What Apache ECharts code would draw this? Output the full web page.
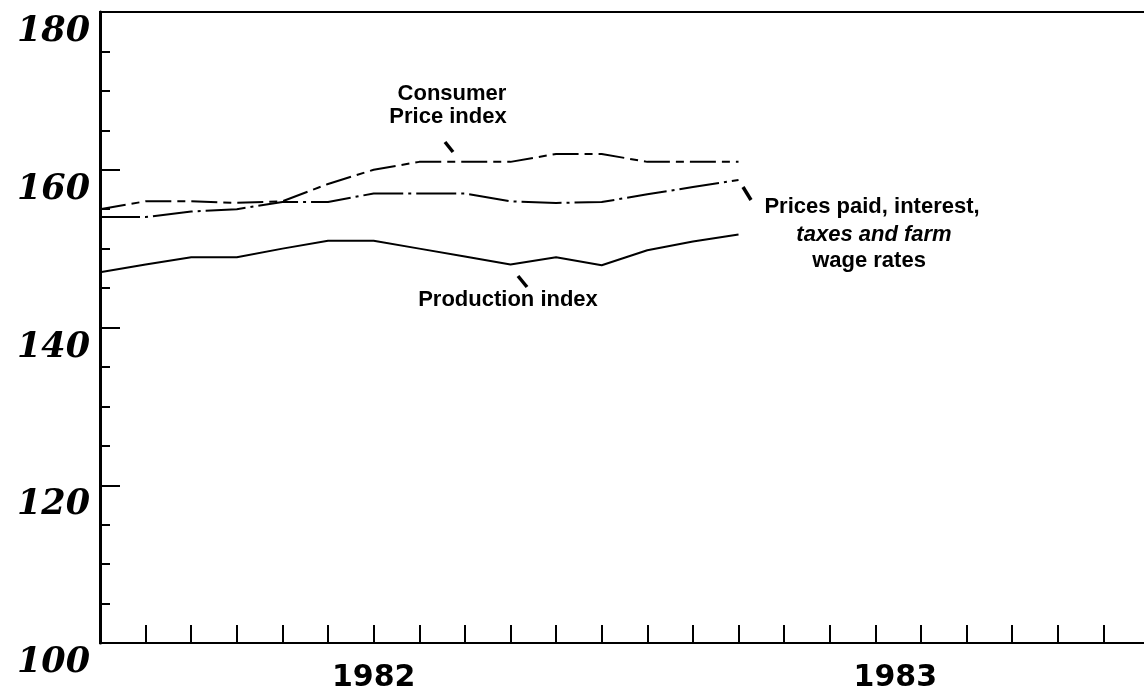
<!DOCTYPE html>
<html>
<head>
<meta charset="utf-8">
<script src="https://cdn.jsdelivr.net/npm/echarts@6/dist/echarts.min.js"></script>
<style>
html,body{margin:0;padding:0;background:#fff;}
#c{width:1144px;height:693px;}
</style>
</head>
<body>
<div id="c"></div>
<script>
// Monthly categories, Jan 1982 - Dec 1983
const months = [
  '1982-01','1982-02','1982-03','1982-04','1982-05','1982-06',
  '1982-07','1982-08','1982-09','1982-10','1982-11','1982-12',
  '1983-01','1983-02','1983-03','1983-04','1983-05','1983-06',
  '1983-07','1983-08','1983-09','1983-10','1983-11','1983-12'
];
// Year labels shown under the axis
const yearLabels = { '1982-07': '1982', '1983-06': '1983' };

// Series values (index)
const consumerPriceIndex = [155, 156, 156, 155.8, 156, 158.2, 160, 161, 161, 161, 162, 162, 161, 161, 161];
const pricesPaid        = [154, 154, 154.7, 155, 155.9, 155.9, 157, 157, 157, 156, 155.8, 155.9, 156.9, 157.8, 158.7];
const productionIndex   = [147, 148, 148.9, 148.9, 150, 151, 151, 150, 149, 148, 148.9, 147.9, 149.8, 150.9, 151.8];

// Annotation texts
const cpiLabel = ['Consumer', 'Price index'];
const pricesLabel = ['Prices paid, interest,', 'taxes and farm', 'wage rates'];
const productionLabel = 'Production index';

const chart = echarts.init(document.getElementById('c'), null, { renderer: 'canvas' });
const LBL = '"Liberation Sans", Arial, sans-serif';

function txt(text, x, y, italic) {
  return {
    type: 'text', x: x, y: y, silent: true,
    style: {
      text: text, fill: '#000',
      font: (italic ? 'italic ' : '') + 'bold 22px ' + LBL,
      textAlign: 'center', textVerticalAlign: 'middle'
    }
  };
}
function slash(x1, y1, x2, y2) {
  return {
    type: 'line', silent: true,
    shape: { x1: x1, y1: y1, x2: x2, y2: y2 },
    style: { stroke: '#000', lineWidth: 3.5, lineCap: 'butt' }
  };
}

const option = {
  animation: false,
  backgroundColor: '#fff',
  grid: {
    left: 100, top: 12, width: 1049, bottom: 50,
    outerBoundsMode: 'none', containLabel: false,
    show: true, borderColor: '#000', borderWidth: 2, backgroundColor: 'transparent'
  },
  xAxis: {
    type: 'category', data: months, boundaryGap: false,
    axisLine: { lineStyle: { color: '#000', width: 2 } },
    axisTick: { inside: true, length: 18, interval: 0, lineStyle: { color: '#000', width: 2 } },
    axisLabel: {
      interval: 0,
      formatter: function (v) {
        const t = yearLabels[v];
        if (!t) return '';
        return v === '1983-06' ? '{r|' + t + '}' : t;
      },
      rich: { r: { padding: [0, 0, 0, 40], fontFamily: 'DejaVu Sans', fontWeight: 'bold', fontSize: 30, color: '#000' } },
      color: '#000', fontFamily: 'DejaVu Sans', fontWeight: 'bold', fontSize: 30, margin: 20
    },
    splitLine: { show: false }
  },
  yAxis: {
    type: 'value', min: 100, max: 180, interval: 20,
    axisLine: { show: true, lineStyle: { color: '#000', width: 3 } },
    axisTick: { show: true, inside: true, length: 20, lineStyle: { color: '#000', width: 2 } },
    minorTick: { show: true, splitNumber: 4, length: 10, lineStyle: { color: '#000', width: 2 } },
    axisLabel: {
      color: '#000', fontFamily: 'DejaVu Serif', fontStyle: 'italic', fontWeight: 'bold',
      fontSize: 35, margin: 10, verticalAlign: 'top', lineHeight: 40
    },
    splitLine: { show: false }
  },
  series: [
    {
      name: 'Consumer Price index', type: 'line', data: consumerPriceIndex,
      symbol: 'none', lineStyle: { color: '#000', width: 2, type: [26, 6, 8, 6] }
    },
    {
      name: 'Prices paid, interest, taxes and farm wage rates', type: 'line', data: pricesPaid,
      symbol: 'none', lineStyle: { color: '#000', width: 2, type: [40, 5, 3, 5] }
    },
    {
      name: 'Production index', type: 'line', data: productionIndex,
      symbol: 'none', lineStyle: { color: '#000', width: 2 }
    }
  ],
  graphic: [
    txt(cpiLabel[0], 452, 94),
    txt(cpiLabel[1], 448, 117),
    slash(445, 142, 453, 152),
    txt(pricesLabel[0], 872, 207),
    txt(pricesLabel[1], 874, 235, true),
    txt(pricesLabel[2], 869, 261),
    slash(743, 187, 751, 200),
    txt(productionLabel, 508, 300),
    slash(518, 276, 527, 287)
  ]
};
chart.setOption(option);
</script>
</body>
</html>
